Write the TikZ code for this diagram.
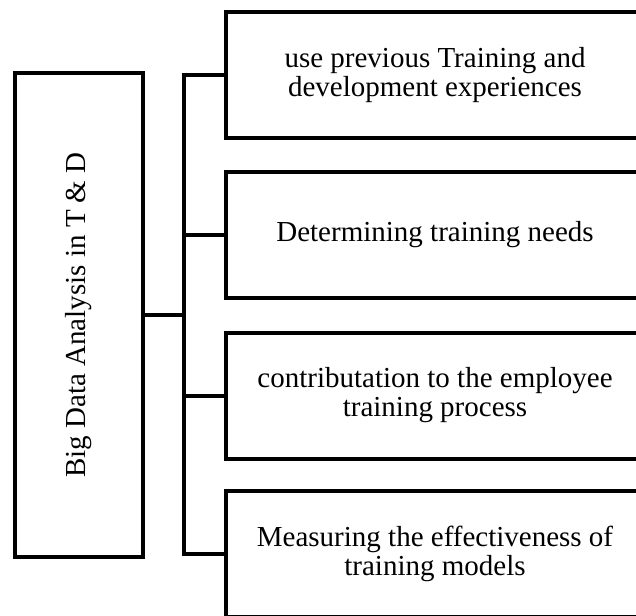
\documentclass[tikz,border=0pt]{standalone}
\usepackage{fontspec}
\setmainfont{Liberation Serif}
\begin{document}
\begin{tikzpicture}[x=1pt,y=-1pt,
  frame/.style={draw=black,line width=4pt,outer sep=0pt,inner sep=0pt,
    font=\fontsize{29}{29}\selectfont,align=center},
  itembox/.style={frame,minimum width=418pt,minimum height=126pt},
  rootbox/.style={frame,minimum width=128pt,minimum height=484pt},
  link/.style={draw=black,line width=4pt,line join=miter}]
\useasboundingbox (0,0) rectangle (636,615);
\clip (0,0) rectangle (636,615);

% root node, text running bottom to top
\node[rootbox] (root) at (79,315) {};
\node[rotate=90,font=\fontsize{29}{29}\selectfont,inner sep=0pt] (rootlabel) at (root.center) {Big Data Analysis in T \& D};

% four branch boxes
\node[itembox] (b1) at (435,75)    {use previous Training and\\development experiences};
\node[itembox] (b2) at (435,235)   {Determining training needs};
\node[itembox] (b3) at (435,395.5) {contributation to the employee\\training process};
\node[itembox] (b4) at (435,554)   {Measuring the effectiveness of\\training models};

% bus connecting the root to the boxes
\coordinate (bus) at (184,0);
\draw[link] (b1.west) -- (bus |- b1.west) -- (bus |- b4.west) -- (b4.west);
\draw[link] (bus |- b2.west) -- (b2.west);
\draw[link] (bus |- b3.west) -- (b3.west);
\draw[link] (root.east) -- (bus |- root.east);
\end{tikzpicture}
\end{document}
